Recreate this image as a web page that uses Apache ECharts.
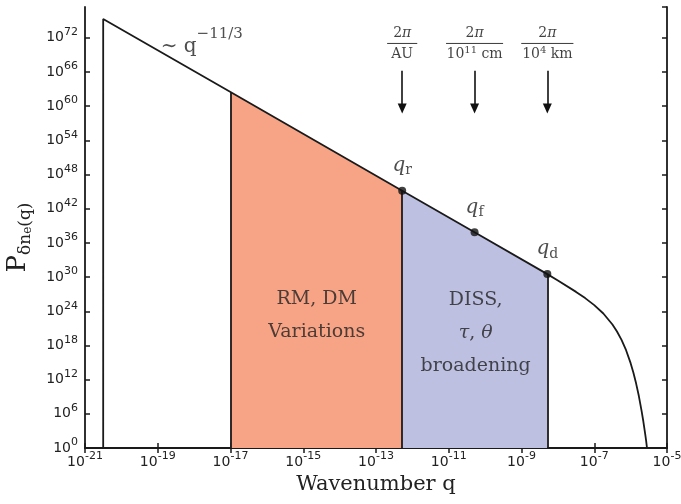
<!DOCTYPE html>
<html><head><meta charset="utf-8">
<script src="https://cdn.jsdelivr.net/npm/echarts@6/dist/echarts.min.js"></script>
<style>html,body{margin:0;padding:0;background:#fff}#c{width:681px;height:504px}</style>
</head><body><div id="c"></div>
<script>
// ---- data (log10 values) ----
const curveLogQ = [-20.5, -20.5, -17, -12.28, -10.29, -8.29, -8.0, -7.5, -7.25, -7.0, -6.75, -6.5, -6.375, -6.25, -6.125, -6.0, -5.925, -5.85, -5.775, -5.7, -5.65, -5.6, -5.575, -5.55];
const curveLogP = [0, 75.3, 62.47, 45.15, 37.85, 30.52, 29.40, 27.40, 26.31, 25.08, 23.60, 21.68, 20.45, 18.98, 17.16, 14.89, 13.26, 11.35, 9.16, 6.56, 4.65, 2.47, 1.33, 0];

const rmLogQ = [-17, -12.28];
const rmLogP = [62.47, 45.15];
const dissLogQ = [-12.28, -10.29, -8.29];
const dissLogP = [45.15, 37.85, 30.52];

const edgeLogQ = [-17, -12.28, -8.29];
const edgeLogP = [62.47, 45.15, 30.52];

const markerLogQ = [-12.28, -10.29, -8.29];
const markerLogP = [45.15, 37.85, 30.52];
const markerSub = ['r', 'f', 'd'];

const scaleLogQ = [-12.28, -10.29, -8.29];
const scaleDen = ['{den|AU}', '{den|10}{dsup|11}{den| cm}', '{den|10}{dsup|4}{den| km}'];
const arrowTopLogP = 66.2;
const arrowEndLogP = 59.6;
const fracLogP = 71.0;

const xMin = -21, xMax = -5, xStep = 2;
const yMin = 0, yMax = 77.4, yStep = 6;

// ---- styling ----
const serif = "'DejaVu Serif', serif";
const sans = "'DejaVu Sans', sans-serif";
const ink = '#1a1a1a';
const txt = '#222222';

const tickRich = {
  b: { fontFamily: sans, fontSize: 14, color: txt, lineHeight: 22 },
  s: { fontFamily: sans, fontSize: 11, color: txt, verticalAlign: 'top', lineHeight: 12 }
};
function powLabel(v) { return '{b|10}{s|' + Math.round(v) + '}'; }

const axisLineStyle = { show: true, lineStyle: { color: ink, width: 1.8 } };
const tickStyle = { show: true, inside: true, length: 5, lineStyle: { color: ink, width: 1.5 } };

const chart = echarts.init(document.getElementById('c'));
const pairs = (a, b) => a.map((v, i) => [v, b[i]]);

const option = {
  animation: false,
  grid: { left: 85, right: 14, top: 7, bottom: 56, containLabel: false, outerBoundsMode: 'none' },
  xAxis: [
    { type: 'value', min: xMin, max: xMax, interval: xStep, position: 'bottom',
      axisLine: axisLineStyle, axisTick: tickStyle, splitLine: { show: false },
      axisLabel: { margin: 3, formatter: powLabel, rich: tickRich },
      name: 'Wavenumber q', nameLocation: 'middle', nameGap: 26,
      nameTextStyle: { fontFamily: serif, fontSize: 21, color: txt } },
    { type: 'value', min: xMin, max: xMax, interval: xStep, position: 'top',
      axisLine: axisLineStyle, axisTick: tickStyle, splitLine: { show: false },
      axisLabel: { show: false } }
  ],
  yAxis: [
    { type: 'value', min: yMin, max: yMax, interval: yStep, position: 'left',
      axisLine: axisLineStyle, axisTick: tickStyle, splitLine: { show: false },
      axisLabel: { margin: 7, showMaxLabel: false,
        formatter: v => (Math.abs(v % yStep) > 1e-6 ? '' : powLabel(v)), rich: tickRich },
      name: '{P|P}{sub|δn}{sub2|e}{sub|(q)}', nameLocation: 'middle', nameGap: 51, nameRotate: 90,
      nameTextStyle: { color: txt, padding: [0, 20, 0, 0], rich: {
        P: { fontFamily: serif, fontSize: 26, color: txt, lineHeight: 32, verticalAlign: 'middle' },
        sub: { fontFamily: serif, fontSize: 17, color: txt, lineHeight: 19, verticalAlign: 'bottom' },
        sub2: { fontFamily: serif, fontSize: 12, color: txt, lineHeight: 11, verticalAlign: 'bottom' }
      } } },
    { type: 'value', min: yMin, max: yMax, interval: yStep, position: 'right',
      axisLine: axisLineStyle, axisTick: tickStyle, splitLine: { show: false },
      axisLabel: { show: false } }
  ],
  series: [
    { name: 'RM, DM', type: 'line', data: pairs(rmLogQ, rmLogP), symbol: 'none',
      lineStyle: { width: 0 }, areaStyle: { color: '#F7A486', opacity: 1 }, z: 1 },
    { name: 'DISS', type: 'line', data: pairs(dissLogQ, dissLogP), symbol: 'none',
      lineStyle: { width: 0 }, areaStyle: { color: '#BEC0E2', opacity: 1 }, z: 1 },
    { name: 'spectrum', type: 'line', data: pairs(curveLogQ, curveLogP), symbol: 'none',
      lineStyle: { color: ink, width: 1.8 }, z: 3,
      markLine: { silent: true, symbol: ['none', 'none'], label: { show: false },
        lineStyle: { color: ink, width: 1.8, type: 'solid' },
        data: edgeLogQ.map((q, i) => [{ coord: [q, 0] }, { coord: [q, edgeLogP[i]] }]) } },
    { name: 'arrows', type: 'line', data: [], z: 3,
      markLine: { silent: true, symbol: ['none', 'triangle'], symbolSize: [9, 10], label: { show: false },
        lineStyle: { color: '#111', width: 1.6, type: 'solid' },
        data: scaleLogQ.map(q => [{ coord: [q, arrowTopLogP] }, { coord: [q, arrowEndLogP] }]) } },
    { name: 'markers', type: 'scatter', data: pairs(markerLogQ, markerLogP), symbolSize: 8,
      itemStyle: { color: '#111' }, z: 5,
      label: { show: true, position: 'top', distance: 9,
        formatter: p => '{q|q}{s|' + markerSub[p.dataIndex] + '}',
        rich: { q: { fontFamily: serif, fontStyle: 'italic', fontSize: 20, color: txt, lineHeight: 24 },
                s: { fontFamily: serif, fontSize: 14, color: txt, lineHeight: 14, verticalAlign: 'bottom' } } } },
    { name: 'fractions', type: 'scatter', symbolSize: 0, z: 5,
      data: scaleLogQ.map(q => [q, fracLogP]),
      label: { show: true, position: 'inside', align: 'center', verticalAlign: 'middle',
        formatter: p => '{num|2}{pi|π}\n{hr' + p.dataIndex + '|}\n' + scaleDen[p.dataIndex],
        rich: {
          num: { fontFamily: serif, fontSize: 14, color: '#111', lineHeight: 17 },
          pi: { fontFamily: serif, fontStyle: 'italic', fontSize: 14, color: '#111', lineHeight: 17 },
          hr0: { width: 30, height: 0, borderWidth: 0.7, borderColor: '#111', lineHeight: 4 },
          hr1: { width: 57, height: 0, borderWidth: 0.7, borderColor: '#111', lineHeight: 4 },
          hr2: { width: 52, height: 0, borderWidth: 0.7, borderColor: '#111', lineHeight: 4 },
          den: { fontFamily: serif, fontSize: 14, color: '#111', lineHeight: 17 },
          dsup: { fontFamily: serif, fontSize: 10, color: '#111', lineHeight: 10, verticalAlign: 'top' }
        } } },
    { name: 'texts', type: 'scatter', symbolSize: 0, z: 5,
      data: [
        { value: [-18.92, 71.3], label: { align: 'left', formatter: '{t|∼ q}{e|−11/3}' } },
        { value: [-14.63, 23.3], label: { formatter: '{r|RM, DM}\n{r|Variations}' } },
        { value: [-10.26, 20.2], label: { formatter: '{r|DISS,}\n{ri|τ}{r|, }{ri|θ}\n{r|broadening}' } }
      ],
      label: { show: true, position: 'inside', align: 'center', verticalAlign: 'middle',
        rich: {
          t: { fontFamily: serif, fontSize: 20, color: txt, lineHeight: 30, verticalAlign: 'bottom' },
          e: { fontFamily: serif, fontSize: 15, color: txt, lineHeight: 15, verticalAlign: 'top' },
          r: { fontFamily: serif, fontSize: 19, color: txt, lineHeight: 33 },
          ri: { fontFamily: serif, fontStyle: 'italic', fontSize: 19, color: txt, lineHeight: 33 }
        } } }
  ]
};
chart.setOption(option);
</script>
</body></html>
